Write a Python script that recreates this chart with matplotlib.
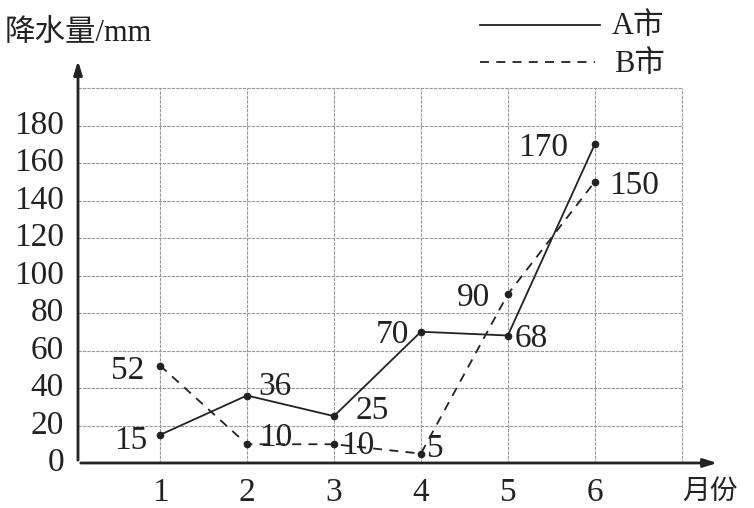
import numpy as np
import matplotlib.pyplot as plt

plt.rcParams['font.family'] = ['Liberation Serif', 'Noto Sans CJK SC']

months = [1, 2, 3, 4, 5, 6]
city_a = [15, 36, 25, 70, 68, 170]
city_b = [52, 10, 10, 5, 90, 150]
yticks = np.arange(0, 181, 20)

# label offsets in pixels (dx, dy, ha)
off_a = [(-13, -6, 'right'), (11, 9, 'left'), (22, 5, 'left'),
         (-12, -3, 'right'), (7, -3, 'left'), (-27, -4, 'right')]
off_b = [(-16, -5, 'right'), (12, 6, 'left'), (7, -2, 'left'),
         (6, 5, 'left'), (-18, -4, 'right'), (14, -4, 'left')]

fs = 24
fig = plt.figure(figsize=(7.54, 5.08), dpi=100)
ax = fig.add_axes([78 / 754, 45 / 508, 642 / 754, 405 / 508])
x0, x1 = 0.057, 7.44
ax.set_xlim(x0, x1)
ax.set_ylim(0, 216)
for s in ax.spines.values():
    s.set_visible(False)
ax.set_xticks([])
ax.set_yticks([])

# grid
gcol = '#999999'
for v in np.arange(20, 201, 20):
    ax.plot([x0, 7], [v, v], color=gcol, lw=0.8, ls=(0, (3, 1)), zorder=1)
for m in range(1, 8):
    ax.plot([m, m], [0, 200], color=gcol, lw=0.8, ls=(0, (3, 1)), zorder=1)

# axes with arrows
ax.annotate('', xy=(1.0, 0), xytext=(0, 0), xycoords='axes fraction',
            arrowprops=dict(arrowstyle='-|>,head_length=0.8,head_width=0.25',
                            color='#222', lw=2))
ax.annotate('', xy=(0, 1.0), xytext=(0, 0), xycoords='axes fraction',
            arrowprops=dict(arrowstyle='-|>,head_length=0.8,head_width=0.25',
                            color='#222', lw=2))

# series
ax.plot(months, city_a, color='#222', lw=1.3, marker='o', ms=4.5, zorder=3)
ax.plot(months, city_b, color='#222', lw=1.3, dashes=(5, 4), marker='o',
        ms=4.5, zorder=3)

for m, v, (dx, dy, ha) in zip(months, city_a, off_a):
    ax.annotate(str(v), (m, v), xytext=(dx, dy), textcoords='offset pixels',
                ha=ha, va='center', fontsize=fs, color='#222')
for m, v, (dx, dy, ha) in zip(months, city_b, off_b):
    ax.annotate(str(v), (m, v), xytext=(dx, dy), textcoords='offset pixels',
                ha=ha, va='center', fontsize=fs, color='#222')

# tick labels
for v in yticks:
    ax.annotate(str(v), (x0, v), xytext=(-14, 0), textcoords='offset pixels',
                ha='right', va='center', fontsize=fs, color='#222')
for m in months:
    ax.annotate(str(m), (m, 0), xytext=(0, -30), textcoords='offset pixels',
                ha='center', va='center', fontsize=fs, color='#222')

fig.text(710 / 754, 1 - 492 / 508, '月份', fontsize=20, ha='center',
         va='center', color='#222')
fig.text(5 / 754, 1 - 33 / 508, '降水量/mm', fontsize=22, ha='left',
         va='center', color='#222')

# legend
fig.add_artist(plt.Line2D([480 / 754, 600 / 754], [1 - 25 / 508] * 2,
                          color='#222', lw=1.3))
fig.add_artist(plt.Line2D([480 / 754, 595 / 754], [1 - 62 / 508] * 2,
                          color='#222', lw=1.3, dashes=(5, 4)))
fig.text(612 / 754, 1 - 27 / 508, 'A市', fontsize=22, ha='left',
         va='center', color='#222')
fig.text(614 / 754, 1 - 64 / 508, 'B市', fontsize=22, ha='left',
         va='center', color='#222')

fig.savefig('out.png', dpi=100, facecolor='white')
